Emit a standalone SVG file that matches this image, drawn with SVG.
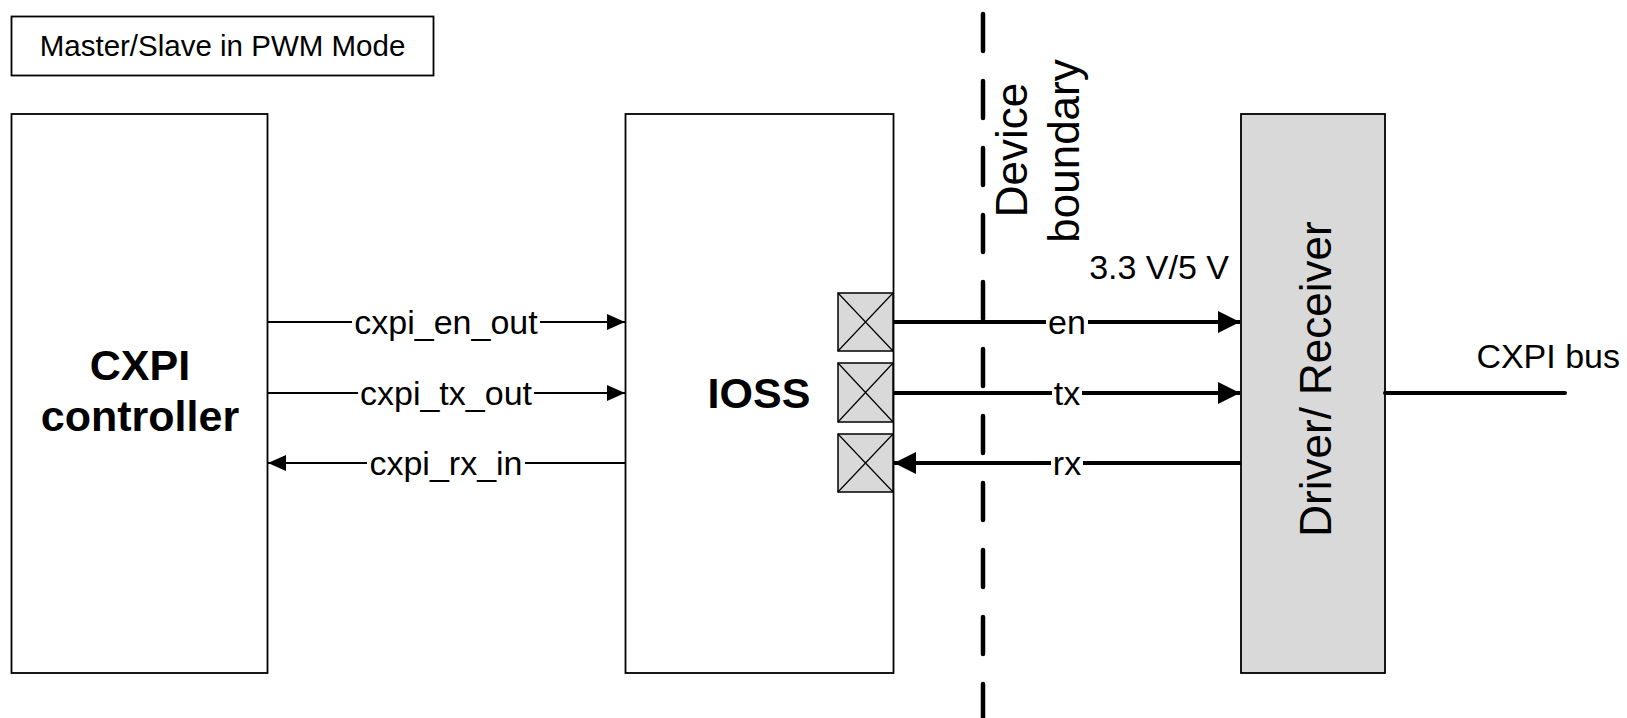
<svg xmlns="http://www.w3.org/2000/svg" width="1627" height="718" viewBox="0 0 1627 718">
<defs>
<style>
text{font-family:"Liberation Sans",Arial,Helvetica,sans-serif;fill:#000}
.box{fill:#fff;stroke:#000;stroke-width:1.8}
.grey{fill:#d9d9d9;stroke:#000;stroke-width:1.8}
.pad{fill:#d9d9d9;stroke:#000;stroke-width:1.5}
.x{stroke:#000;stroke-width:1.2;fill:none}
.thin{stroke:#000;stroke-width:2;fill:none}
.thick{stroke:#000;stroke-width:4;fill:none}
.lbl{font-size:34px;text-anchor:middle}
.big{font-size:43px;font-weight:bold;text-anchor:middle}
.rot{font-size:44px;text-anchor:middle}
</style>
<marker id="ah" markerUnits="userSpaceOnUse" markerWidth="18" markerHeight="16" refX="18" refY="8" orient="auto">
<path d="M0,0 L18,8 L0,16 z" fill="#000"/>
</marker>
<marker id="ahT" markerUnits="userSpaceOnUse" markerWidth="22" markerHeight="22" refX="22" refY="11" orient="auto">
<path d="M0,0 L22,11 L0,22 z" fill="#000"/>
</marker>
</defs>
<rect width="1627" height="718" fill="#fff"/>

<g id="title">
<rect class="box" x="11.5" y="16.5" width="422" height="59" stroke-width="1.5"/>
<text x="222.5" y="56" font-size="29.5" text-anchor="middle">Master/Slave in PWM Mode</text>
</g>

<g id="boundary">
<line x1="983" y1="14" x2="983" y2="718" stroke="#000" stroke-width="4.5" stroke-dasharray="37 30" stroke-linecap="round"/>
<text class="rot" transform="translate(1027,150) rotate(-90)">Device</text>
<text class="rot" transform="translate(1079,151) rotate(-90)">boundary</text>
</g>

<g id="cxpi-controller">
<rect class="box" x="11.5" y="114" width="256" height="559"/>
<text class="big" x="140" y="380">CXPI</text>
<text class="big" x="140" y="431">controller</text>
</g>

<g id="ioss">
<rect class="box" x="625.5" y="114" width="268" height="559"/>
<text class="big" x="759" y="408">IOSS</text>
</g>

<g id="pads">
<g id="pad-en"><rect class="pad" x="838" y="293" width="55" height="58"/><path class="x" d="M838,293 L893,351 M893,293 L838,351"/></g>
<g id="pad-tx"><rect class="pad" x="838" y="363" width="55" height="59"/><path class="x" d="M838,363 L893,422 M893,363 L838,422"/></g>
<g id="pad-rx"><rect class="pad" x="838" y="434" width="55" height="58"/><path class="x" d="M838,434 L893,492 M893,434 L838,492"/></g>
</g>

<g id="driver-receiver">
<rect class="grey" x="1241" y="114" width="144" height="559"/>
<text class="rot" transform="translate(1331,379) rotate(-90)">Driver/ Receiver</text>
</g>

<g id="connectors">
<path class="thin" d="M268,322 H352 M540,322 H625" marker-end="url(#ah)"/>
<path class="thin" d="M268,393 H358 M534,393 H625" marker-end="url(#ah)"/>
<path class="thin" d="M625,463 H525 M367,463 H268" marker-end="url(#ah)"/>
<path class="thick" d="M893,322 H1046 M1088,322 H1240" marker-end="url(#ahT)"/>
<path class="thick" d="M893,393 H1052 M1082,393 H1240" marker-end="url(#ahT)"/>
<path class="thick" d="M1241,463 H1083 M1051,463 H894" marker-end="url(#ahT)"/>
<line class="thick" x1="1385" y1="393" x2="1565" y2="393" stroke-linecap="round"/>
<text class="lbl" x="446" y="334">cxpi_en_out</text>
<text class="lbl" x="446" y="405">cxpi_tx_out</text>
<text class="lbl" x="446" y="475">cxpi_rx_in</text>
<text class="lbl" x="1067" y="334">en</text>
<text class="lbl" x="1067" y="405">tx</text>
<text class="lbl" x="1067" y="475">rx</text>
<text x="1229" y="279" font-size="34" text-anchor="end">3.3 V/5 V</text>
<text x="1620" y="368" font-size="34" text-anchor="end">CXPI bus</text>
</g>
</svg>
